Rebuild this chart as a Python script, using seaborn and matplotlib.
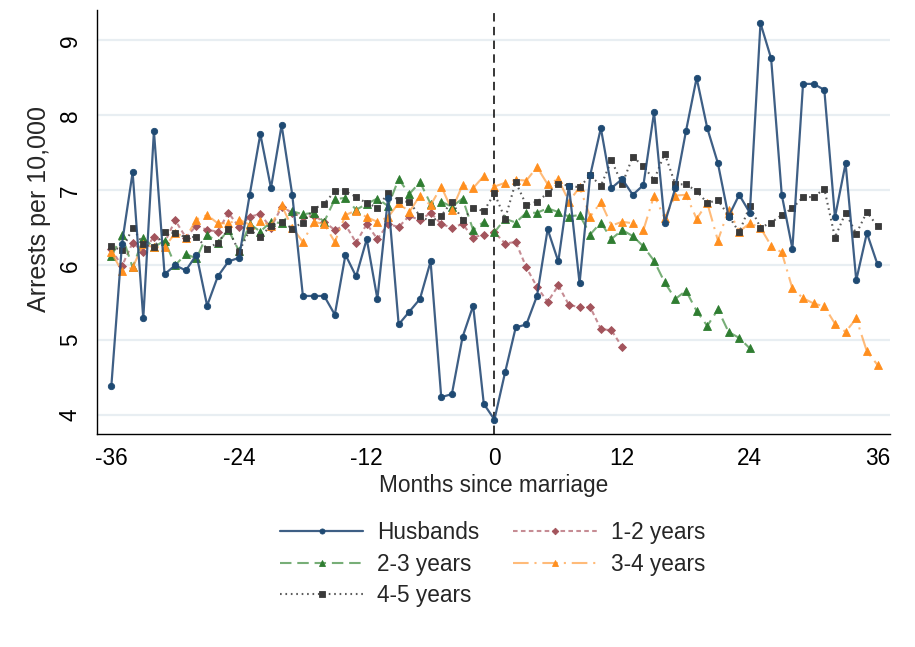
import numpy as np
import pandas as pd
import matplotlib
matplotlib.use("Agg")
import matplotlib.pyplot as plt
import seaborn as sns

# Months relative to marriage
months_all = list(range(-36, 37))

husbands = [4.39, 6.29, 7.24, 5.29, 7.79, 5.88, 6.00, 5.93, 6.14, 5.46, 5.85, 6.05, 6.10,
            6.94, 7.75, 7.03, 7.87, 6.94, 5.59, 5.59, 5.59, 5.34, 6.14, 5.85, 6.35, 5.55,
            6.90, 5.21, 5.38, 5.55, 6.05, 4.24, 4.28, 5.04, 5.46, 4.15, 3.94,
            4.57, 5.17, 5.21, 5.59, 6.48, 6.05, 7.06, 5.76, 7.20, 7.83, 7.03, 7.15, 6.94,
            7.07, 8.04, 6.56, 7.03, 7.79, 8.50, 7.83, 7.36, 6.65, 6.94, 6.70, 9.23, 8.76,
            6.94, 6.22, 8.42, 8.42, 8.34, 6.64, 7.36, 5.80, 6.43, 6.01]

# 1-2 years: months -36..12
years_1_2 = [6.21, 5.99, 6.30, 6.18, 6.38, 6.30, 6.60, 6.37, 6.53, 6.47, 6.45, 6.70, 6.51,
             6.65, 6.68, 6.50, 6.78, 6.70, 6.64, 6.66, 6.58, 6.47, 6.54, 6.30, 6.55, 6.35,
             6.55, 6.51, 6.66, 6.60, 6.70, 6.55, 6.50, 6.55, 6.37, 6.41, 6.44,
             6.29, 6.31, 5.97, 5.71, 5.51, 5.73, 5.47, 5.44, 5.44, 5.15, 5.13, 4.91]

# 2-3 years: months -36..24
years_2_3 = [6.12, 6.40, 5.97, 6.36, 6.24, 6.33, 6.00, 6.15, 6.09, 6.41, 6.30, 6.47, 6.19,
             6.55, 6.45, 6.58, 6.56, 6.72, 6.68, 6.70, 6.58, 6.88, 6.90, 6.74, 6.82, 6.89,
             6.79, 7.15, 6.95, 7.11, 6.82, 6.85, 6.78, 6.89, 6.47, 6.58, 6.44,
             6.62, 6.57, 6.70, 6.70, 6.76, 6.71, 6.65, 6.67, 6.41, 6.57, 6.35, 6.47,
             6.39, 6.25, 6.06, 5.77, 5.55, 5.66, 5.39, 5.19, 5.41, 5.11, 5.03, 4.89]

# 3-4 years: months -36..36
years_3_4 = [6.17, 5.92, 5.97, 6.28, 6.24, 6.24, 6.43, 6.37, 6.61, 6.67, 6.56, 6.56, 6.61,
             6.54, 6.59, 6.53, 6.80, 6.50, 6.31, 6.58, 6.55, 6.31, 6.67, 6.73, 6.64, 6.58,
             6.64, 6.83, 6.71, 6.93, 6.80, 7.05, 6.74, 7.07, 7.03, 7.19, 7.05,
             7.10, 7.14, 7.13, 7.31, 7.08, 7.15, 6.85, 7.04, 6.65, 6.84, 6.53, 6.58,
             6.56, 6.47, 6.93, 6.63, 6.93, 6.94, 6.62, 6.83, 6.33, 6.74, 6.45, 6.56,
             6.50, 6.26, 6.17, 5.69, 5.56, 5.49, 5.45, 5.22, 5.11, 5.29, 4.85, 4.67]

# 4-5 years: months -36..36
years_4_5 = [6.25, 6.20, 6.50, 6.28, 6.24, 6.44, 6.43, 6.37, 6.38, 6.22, 6.30, 6.48, 6.18,
             6.47, 6.38, 6.53, 6.58, 6.49, 6.57, 6.75, 6.82, 6.99, 6.99, 6.91, 6.83, 6.77,
             6.96, 6.87, 6.84, 6.66, 6.58, 6.66, 6.85, 6.60, 6.77, 6.72, 6.96,
             6.62, 7.11, 6.80, 6.85, 6.96, 7.09, 7.06, 7.04, 7.20, 7.06, 7.40, 7.08,
             7.45, 7.32, 7.14, 7.49, 7.08, 7.08, 6.99, 6.83, 6.87, 6.66, 6.44, 6.79,
             6.50, 6.57, 6.67, 6.76, 6.91, 6.91, 7.02, 6.37, 6.70, 6.42, 6.71, 6.52]

x_ticks = [-36, -24, -12, 0, 12, 24, 36]
y_ticks = [4, 5, 6, 7, 8, 9]

sns.set_style("white")
plt.rcParams["font.family"] = ["Liberation Sans", "DejaVu Sans"]
FS = 16.3

fig = plt.figure(figsize=(9.15, 6.47), dpi=100)
ax = fig.add_axes([0.106, 0.329, 0.867, 0.656])

# Horizontal grid
for yv in y_ticks:
    ax.axhline(yv, color="#e8eef2", lw=1.6, zorder=0)

series = [
    # label, values, line color, marker color, marker, size, dashes
    ("1-2 years", years_1_2, (0.70, 0.40, 0.44, 0.75), "#a3545c", "D", 4.2, (2.2, 1.6)),
    ("2-3 years", years_2_3, (0.24, 0.55, 0.24, 0.70), "#2f7d31", "^", 6.0, (5.5, 2.8)),
    ("3-4 years", years_3_4, (1.00, 0.62, 0.25, 0.70), "#ff8f1f", "^", 6.0, (7.5, 2.8, 1.0, 2.8)),
    ("4-5 years", years_4_5, (0.20, 0.20, 0.20, 0.80), "#3a3a3a", "s", 4.8, (0.8, 1.8)),
    ("Husbands", husbands, (0.16, 0.30, 0.47, 0.90), "#1f4a73", "o", 4.6, None),
]

handles = {}
for label, vals, lc, mc, mk, ms, dash in series:
    xs = months_all[:len(vals)]
    df = pd.DataFrame({"month": xs, "rate": vals})
    kws = dict(color=lc, marker=mk, markersize=ms, markerfacecolor=mc,
               markeredgecolor=mc, markeredgewidth=0.6, lw=1.6 if label == "Husbands" else 1.5)
    if dash is not None:
        kws["dashes"] = dash
    sns.lineplot(data=df, x="month", y="rate", ax=ax, label=label, **kws)
    handles[label] = ax.get_lines()[-1]

ax.axvline(0, color="black", lw=1.1, dashes=(5.5, 3.5), zorder=1)

ax.set_xlim(-37.35, 37.2)
ax.set_ylim(3.746, 9.41)
ax.set_xticks(x_ticks)
ax.set_xticklabels([str(t) for t in x_ticks])
ax.set_yticks(y_ticks)
ax.set_yticklabels([str(t) for t in y_ticks], rotation=90, va="center")
ax.tick_params(axis="both", direction="out", length=6.5, width=1, labelsize=FS, colors="black")
ax.tick_params(axis="x", pad=3)
ax.tick_params(axis="y", pad=4.5)
ax.set_xlabel("Months since marriage", fontsize=FS, labelpad=2.5)
ax.set_ylabel("Arrests per 10,000", fontsize=18)
ax.yaxis.set_label_coords(-0.058, 0.531)

for side in ["top", "right"]:
    ax.spines[side].set_visible(False)
for side in ["left", "bottom"]:
    ax.spines[side].set_color("black")
    ax.spines[side].set_linewidth(1.0)

ax.get_legend().remove()
order = ["Husbands", "2-3 years", "4-5 years", "1-2 years", "3-4 years"]
fig.legend([handles[k] for k in order], order, loc="upper center",
           bbox_to_anchor=(0.538, 0.226), ncol=2, frameon=False, fontsize=FS,
           handlelength=3.7, handletextpad=0.6, columnspacing=1.5, labelspacing=0.38,
           markerscale=0.8)

fig.savefig("out.png", dpi=100, facecolor="white")
